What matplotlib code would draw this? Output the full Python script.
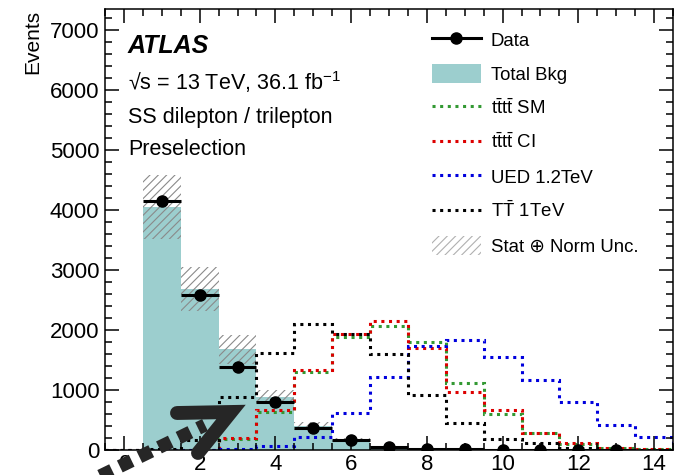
import numpy as np
import matplotlib
matplotlib.use("Agg")
import matplotlib.pyplot as plt
from matplotlib.lines import Line2D
from matplotlib.patches import Patch
from matplotlib.ticker import MultipleLocator

plt.rcParams['font.family'] = ['Liberation Sans', 'DejaVu Sans']
plt.rcParams['mathtext.fontset'] = 'custom'
plt.rcParams['mathtext.rm'] = 'Liberation Sans'
plt.rcParams['mathtext.it'] = 'Liberation Sans:italic'
plt.rcParams['mathtext.bf'] = 'Liberation Sans:bold'
plt.rcParams['hatch.linewidth'] = 0.8

# jet multiplicity bins 0..14
edges = np.arange(-0.5, 15.0, 1.0)
centers = np.arange(0, 15)

bkg = [0, 4050, 2680, 1680, 880, 400, 170, 60, 25, 10, 5, 3, 2, 1, 0]
bkg_unc = [0, 530, 370, 240, 120, 60, 25, 10, 5, 2, 1, 1, 0, 0, 0]
data = [0, 4150, 2583, 1383, 800, 372, 167, 55, 25, 12, 7, 4, 2, 1, 0]

tttt_sm = [0, 0, 0, 180, 640, 1300, 1889, 2060, 1800, 1125, 600, 283, 95, 30, 10]
tttt_ci = [0, 0, 0, 200, 660, 1333, 1940, 2150, 1700, 975, 660, 283, 110, 35, 12]
ued = [0, 0, 5, 20, 67, 217, 625, 1225, 1730, 1830, 1556, 1167, 806, 415, 210]
tt_1tev = [0, 10, 170, 890, 1625, 2100, 1940, 1605, 920, 445, 190, 110, 30, 8, 2]

teal = "#9ccece"
dot = (0, (1, 1.5))
dlw = 2.2

fig = plt.figure(figsize=(6.79, 4.75), dpi=100)
ax = fig.add_axes([105 / 679, 1 - 450 / 475, 568 / 679, 441 / 475])

# background and its uncertainty band
ax.stairs(bkg, edges, fill=True, color=teal, linewidth=0)
b = np.array(bkg)
u = np.array(bkg_unc)
ax.bar(centers, 2 * u, bottom=b - u, width=1.0, fill=False, hatch="////",
       edgecolor="#8a8a8a", linewidth=0)

# signal hypotheses
ax.stairs(tttt_sm, edges, color="#339933", linestyle=dot, linewidth=dlw)
ax.stairs(tttt_ci, edges, color="#dd0000", linestyle=dot, linewidth=dlw)
ax.stairs(ued, edges, color="#0000dd", linestyle=dot, linewidth=dlw)
ax.stairs(tt_1tev, edges, color="black", linestyle=dot, linewidth=dlw)

# data points
d = np.array(data, dtype=float)
m = d > 0
ax.errorbar(centers[m], d[m], xerr=0.5, yerr=np.sqrt(d[m]), fmt="o",
            color="black", markersize=8, elinewidth=2.2, capsize=0, zorder=5)

ax.set_xlim(-0.5, 14.5)
ax.set_ylim(0, 7350)
ax.xaxis.set_major_locator(MultipleLocator(2))
ax.xaxis.set_minor_locator(MultipleLocator(0.5))
ax.yaxis.set_major_locator(MultipleLocator(1000))
ax.yaxis.set_minor_locator(MultipleLocator(200))
ax.tick_params(which="both", direction="in", top=True, right=True, width=1.1,
               labelsize=16)
ax.tick_params(which="major", length=10)
ax.tick_params(which="minor", length=5)
ax.tick_params(axis="x", pad=3)
ax.tick_params(axis="y", pad=4)
for s in ax.spines.values():
    s.set_linewidth(1.1)

ax.set_ylabel("Events", loc="top", fontsize=15)
ax.yaxis.set_label_coords(-0.111, 0.997)

ax.text(0.0405, 0.900, "ATLAS", transform=ax.transAxes, fontsize=18,
        fontweight="bold", fontstyle="italic", va="baseline")
ax.text(0.0405, 0.816, "√s = 13 TeV, 36.1 fb$^{-1}$", transform=ax.transAxes,
        fontsize=15.5, va="baseline")
ax.text(0.0405, 0.741, "SS dilepton / trilepton", transform=ax.transAxes,
        fontsize=15.5, va="baseline")
ax.text(0.0405, 0.669, "Preselection", transform=ax.transAxes,
        fontsize=15.5, va="baseline")

handles = [
    Line2D([], [], color="black", marker="o", markersize=8, linewidth=2.2),
    Patch(facecolor=teal, edgecolor="none"),
    Line2D([], [], color="#339933", linestyle=dot, linewidth=dlw),
    Line2D([], [], color="#dd0000", linestyle=dot, linewidth=dlw),
    Line2D([], [], color="#0000dd", linestyle=dot, linewidth=dlw),
    Line2D([], [], color="black", linestyle=dot, linewidth=dlw),
    Patch(facecolor="none", edgecolor="#b0b0b0", hatch="////", linewidth=0),
]
labels = [
    "Data",
    "Total Bkg",
    r"$\mathrm{t\bar{t}t\bar{t}}$ SM",
    r"$\mathrm{t\bar{t}t\bar{t}}$ CI",
    "UED 1.2TeV",
    r"$\mathrm{T\bar{T}}$ 1TeV",
    "Stat ⊕ Norm Unc.",
]
ax.legend(handles, labels, loc="upper left", bbox_to_anchor=(0.576, 0.952),
          frameon=False, fontsize=13.4, borderpad=0, borderaxespad=0,
          handlelength=2.6, handleheight=1.2, handletextpad=0.55,
          labelspacing=0.77)

# thick dotted arrow drawn over the lower left corner
def px(x, y):
    return x / 679, 1 - y / 475

shaft = np.array([px(92, 480), px(205, 425)])
fig.add_artist(Line2D(shaft[:, 0], shaft[:, 1], color="#262626",
                      linewidth=9.5, linestyle=(0, (1, 0.65)),
                      solid_capstyle="butt", dash_capstyle="butt",
                      transform=fig.transFigure, zorder=10))
head = np.array([px(177, 413), px(231, 412), px(198, 453)])
fig.add_artist(Line2D(head[:, 0], head[:, 1], color="#262626", linewidth=10,
                      solid_capstyle="round", solid_joinstyle="miter",
                      transform=fig.transFigure, zorder=10))

fig.savefig("out.png", dpi=100)
